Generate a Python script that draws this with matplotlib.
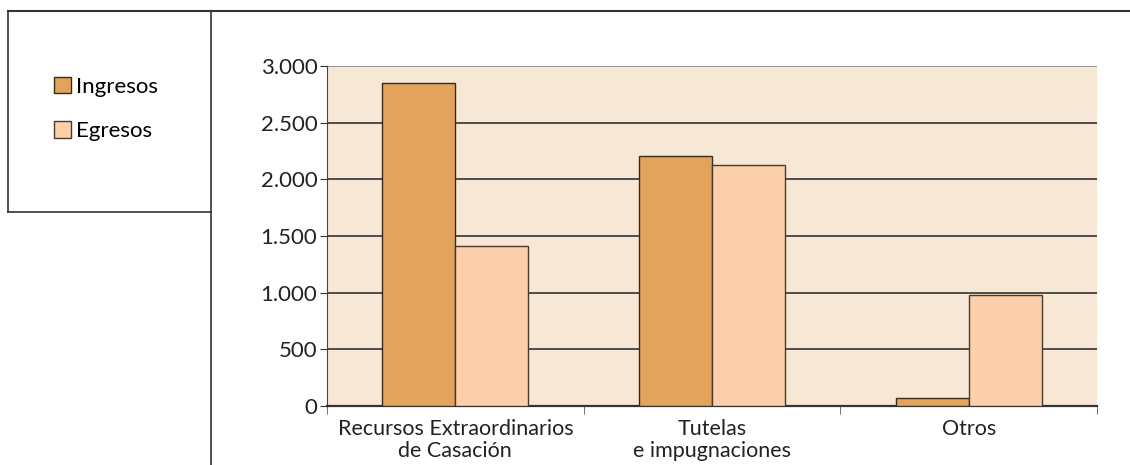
import matplotlib.pyplot as plt
import matplotlib.ticker as mticker
from matplotlib.lines import Line2D
from matplotlib.patches import Patch
import numpy as np

categories = ['Recursos Extraordinarios\nde Casación', 'Tutelas\ne impugnaciones', 'Otros']
ingresos = [2850, 2210, 75]
egresos = [1410, 2125, 980]
series_names = ['Ingresos', 'Egresos']

c_ing = '#E2A45C'
c_egr = '#FBD0AA'
c_bg = '#F7E8D6'

plt.rcParams['font.family'] = ['Lato', 'DejaVu Sans']

fig = plt.figure(figsize=(11.3, 4.65), dpi=100)
ax = fig.add_axes([327 / 1130, 59 / 465, 770 / 1130, 340 / 465])
ax.set_facecolor(c_bg)

x = np.arange(len(categories))
w = 0.285
ax.bar(x - w / 2, ingresos, w, color=c_ing, edgecolor='#3a2a1a', lw=1, zorder=3)
ax.bar(x + w / 2, egresos, w, color=c_egr, edgecolor='#4a3a2a', lw=1, zorder=3)

ax.set_xlim(-0.5, 2.5)
ax.set_ylim(0, 3000)
ax.set_yticks(range(0, 3001, 500))
ax.yaxis.set_major_formatter(mticker.FuncFormatter(lambda v, p: f'{int(v):,}'.replace(',', '.')))
ax.tick_params(axis='y', labelsize=16, length=5, color='#333333', pad=2, labelcolor='#222222')

ax.set_xticks(x)
ax.set_xticklabels(categories, fontsize=15.5, linespacing=1.15, color='#222222')
ax.tick_params(axis='x', which='major', length=0, pad=9)
ax.set_xticks([-0.5, 0.5, 1.5, 2.5], minor=True)
ax.tick_params(axis='x', which='minor', length=6, color='#555555')

ax.yaxis.grid(True, color='#333333', lw=1.2, zorder=1)
ax.set_axisbelow(True)
gl = ax.yaxis.get_gridlines()
gl[-1].set_color('#888888')
gl[0].set_visible(False)

for s in ['top', 'right']:
    ax.spines[s].set_visible(False)
ax.spines['left'].set_color('#444444')
ax.spines['bottom'].set_color('#333333')
ax.spines['bottom'].set_linewidth(1.6)

# frame lines around the legend area
fig.add_artist(Line2D([8 / 1130, 1], [1 - 11 / 465, 1 - 11 / 465], color='#333333', lw=1.5))
fig.add_artist(Line2D([8 / 1130, 8 / 1130], [1 - 11 / 465, 1 - 212 / 465], color='#333333', lw=1.2))
fig.add_artist(Line2D([8 / 1130, 211 / 1130], [1 - 212 / 465, 1 - 212 / 465], color='#333333', lw=1.2))
fig.add_artist(Line2D([211 / 1130, 211 / 1130], [1 - 11 / 465, 0], color='#333333', lw=1.2))

handles = [Patch(facecolor=c_ing, edgecolor='#3a2a1a'), Patch(facecolor=c_egr, edgecolor='#4a3a2a')]
fig.legend(handles, series_names, loc='upper left', bbox_to_anchor=(45 / 1130, 1 - 68 / 465),
           frameon=False, fontsize=16, handlelength=0.75, handleheight=0.75, handletextpad=0.25,
           labelspacing=1.1, borderaxespad=0)

fig.savefig('out.png', dpi=100)
